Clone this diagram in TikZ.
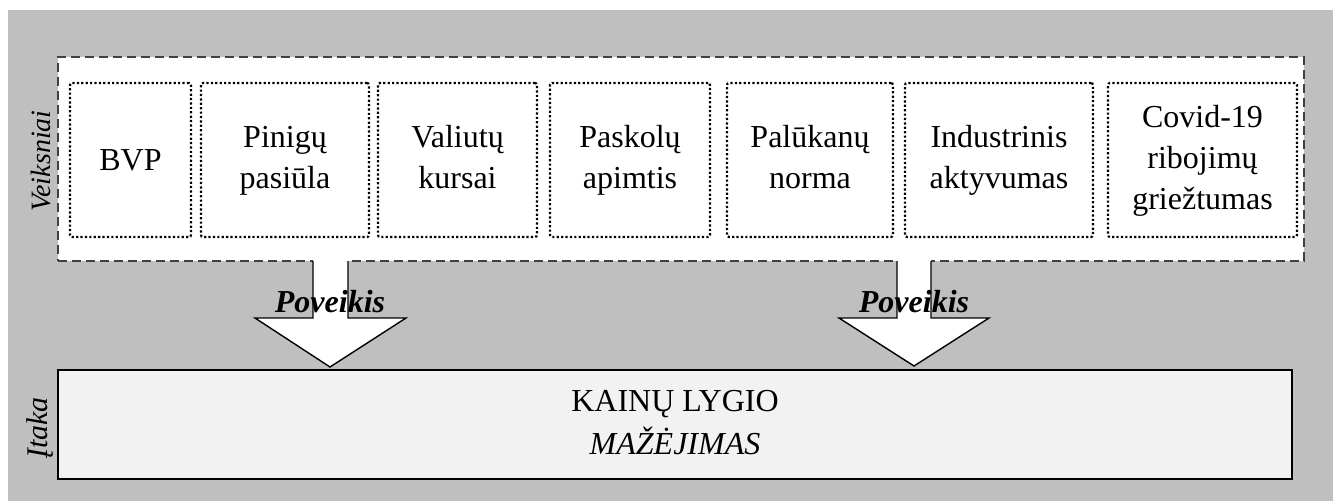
\documentclass[tikz,border=0pt]{standalone}
\usepackage{fontspec}
\setmainfont{Liberation Serif}
\definecolor{bggray}{HTML}{BFBFBF}
\definecolor{boxgray}{HTML}{F2F2F2}
\definecolor{dashgray}{HTML}{404040}
\newcommand\mlines[1]{\begin{tabular}{@{}c@{}}#1\end{tabular}}
\begin{document}
\begin{tikzpicture}[x=1pt,y=-1pt,
  groupbox/.style={draw=dashgray, line width=1.6pt, dash pattern=on 9pt off 5pt, fill=white, inner sep=0pt},
  factor/.style={draw=black, line width=2.2pt, dash pattern=on 2.2pt off 2.2pt, fill=white, rounded corners=2pt,
    minimum height=154pt, inner sep=0pt, align=center, font=\fontsize{32}{41}\selectfont},
  resultbox/.style={draw=black, line width=2.5pt, fill=boxgray, inner sep=0pt, align=center,
    font=\fontsize{32}{43}\selectfont},
  sidelabel/.style={rotate=90, anchor=base, inner sep=0pt, font=\itshape},
  blockarrow/.style={fill=white},
  arrowline/.style={draw=black, line width=1.4pt, line join=miter},
  efflabel/.style={anchor=base, inner sep=0pt, font=\fontsize{32}{36}\selectfont\bfseries\itshape}
]
\useasboundingbox (0,0) rectangle (1338,501);
\fill[bggray] (8,10) rectangle (1333,501);

% group box of factors
\node[groupbox, minimum width=1246pt, minimum height=204pt] (veik) at (681,159) {};
\node[sidelabel, font=\fontsize{28}{32}\selectfont\itshape] (veiklbl) at (50,161) {Veiksniai};

% factor boxes
\node[factor, minimum width=121pt] (bvp) at (130.5,160) {BVP};
\node[factor, minimum width=168pt] (pin) at (285,160) {\mlines{Pinigų\\pasiūla}};
\node[factor, minimum width=159pt] (val) at (457.5,160) {\mlines{Valiutų\\kursai}};
\node[factor, minimum width=160pt] (pask) at (630,160) {\mlines{Paskolų\\apimtis}};
\node[factor, minimum width=166pt] (pal) at (810,160) {\mlines{Palūkanų\\norma}};
\node[factor, minimum width=188pt] (ind) at (999,160) {\mlines{Industrinis\\aktyvumas}};
\node[factor, minimum width=189pt] (cov) at (1202.5,160) {\mlines{Covid-19\\ribojimų\\griežtumas}};

% result box
\node[resultbox, minimum width=1234pt, minimum height=109pt] (kain) at (675,424.5) {\mlines{KAINŲ LYGIO\\\textit{MAŽĖJIMAS}}};
\node[sidelabel, font=\fontsize{30}{34}\selectfont\itshape] (itlbl) at (47,428) {Įtaka};

% block arrows
\fill[blockarrow] (313,258) -- (313,318) -- (255,318) -- (330,367) -- (406,318) -- (348,318) -- (348,258) -- cycle;
\draw[arrowline] (313,261) -- (313,318) -- (255,318) -- (330,367) -- (406,318) -- (348,318) -- (348,261);
\fill[blockarrow] (897,258) -- (897,318) -- (839,318) -- (914,366) -- (989,318) -- (931,318) -- (931,258) -- cycle;
\draw[arrowline] (897,261) -- (897,318) -- (839,318) -- (914,366) -- (989,318) -- (931,318) -- (931,261);

\node[efflabel] (pov1) at (330,312) {Poveikis};
\node[efflabel] (pov2) at (914,312) {Poveikis};
\end{tikzpicture}
\end{document}
